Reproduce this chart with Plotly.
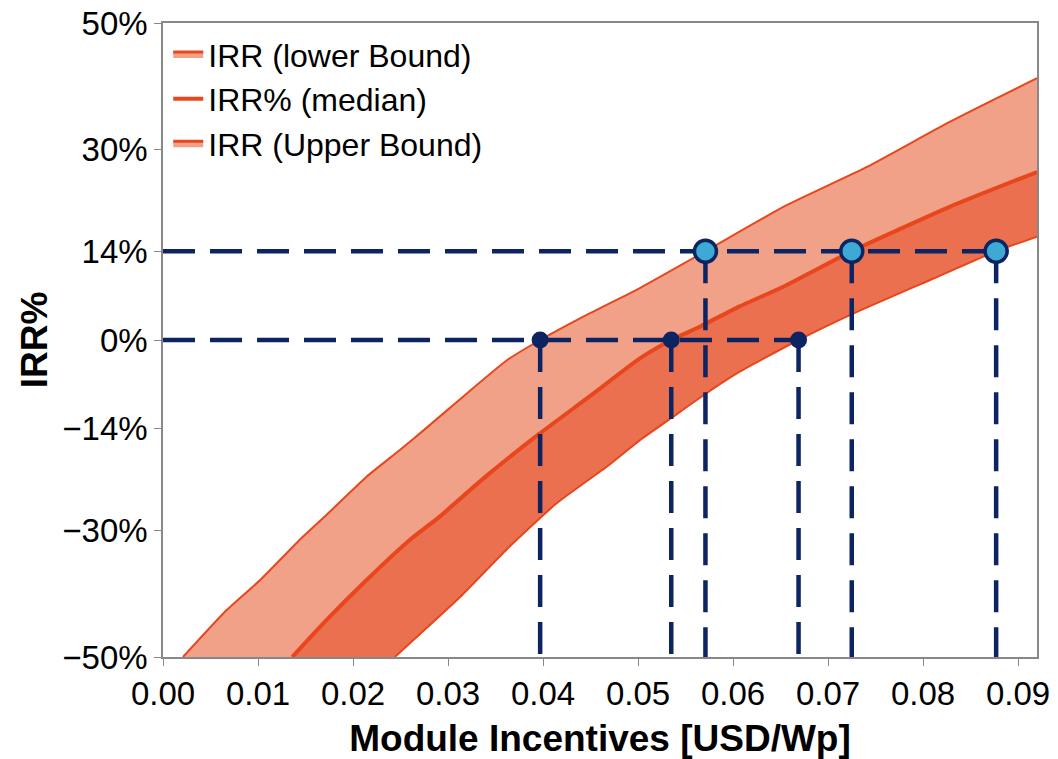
import plotly.graph_objects as go

# IRR bands versus module incentive (USD/Wp), IRR in %
upper_x = [0.0021, 0.0067, 0.0102, 0.0144, 0.0172, 0.0214, 0.0249, 0.0277, 0.0313,
           0.0362, 0.0397, 0.0449, 0.0502, 0.0571, 0.0653, 0.0741, 0.0828, 0.0920]
upper_y = [-50.0, -42.6, -37.9, -31.5, -27.6, -21.6, -17.4, -13.9, -9.3,
           -3.2, 0.0, 4.2, 8.2, 14.0, 21.0, 27.3, 34.4, 41.3]

median_x = [0.0136, 0.0172, 0.0214, 0.0260, 0.0291, 0.0313, 0.0344, 0.0397, 0.0449,
            0.0502, 0.0535, 0.0565, 0.0607, 0.0653, 0.0725, 0.0828, 0.0920]
median_y = [-50.0, -44.2, -37.9, -31.5, -27.9, -25.0, -21.0, -14.7, -8.9,
            -2.9, 0.0, 2.1, 5.3, 8.4, 14.0, 21.0, 26.5]

lower_x = [0.0244, 0.0313, 0.0362, 0.0414, 0.0467, 0.0502, 0.0537, 0.0572, 0.0607,
           0.0669, 0.0727, 0.0811, 0.0877, 0.0920]
lower_y = [-50.0, -40.5, -33.0, -25.8, -20.0, -15.8, -12.1, -8.4, -5.0,
           0.0, 4.2, 9.7, 14.0, 16.3]

# Incentive needed for IRR = 0% and IRR = 14% (upper, median, lower)
breakeven_x = [0.0397, 0.0535, 0.0669]
breakeven_irr = 0
target_x = [0.0571, 0.0725, 0.0877]
target_irr = 14

y_tickvals = [-50, -30, -14, 0, 14, 30, 50]
y_ticktext = ["\u221250%", "\u221230%", "\u221214%", "0%", "14%", "30%", "50%"]

series_names = ["IRR (lower Bound)", "IRR% (median)", "IRR (Upper Bound)"]

LINE = "#E8461C"
FILL_LIGHT = "#F2A189"
FILL_DARK = "#EA704F"
NAVY = "#0C2461"
CYAN = "#3FA9D6"
Y_MIN, Y_MAX = -50, 50

fig = go.Figure()

band_line = dict(color=LINE, width=2, shape="spline", smoothing=0.5)

# Bands: lower curve, then median (dark fill down to lower), then upper (light fill down to median)
fig.add_trace(go.Scatter(x=lower_x, y=lower_y, mode="lines",
                         line=band_line, showlegend=False, hoverinfo="skip"))
fig.add_trace(go.Scatter(x=median_x, y=median_y, mode="lines", fill="tonexty",
                         fillcolor=FILL_DARK, line=dict(band_line, width=4),
                         showlegend=False, hoverinfo="skip"))
fig.add_trace(go.Scatter(x=upper_x, y=upper_y, mode="lines", fill="tonexty",
                         fillcolor=FILL_LIGHT, line=band_line,
                         showlegend=False, hoverinfo="skip"))

# Legend entries
fig.add_trace(go.Scatter(x=[None], y=[None], mode="lines", name=series_names[0], fill="toself",
                         fillcolor=FILL_LIGHT, line=dict(color=LINE, width=3)))
fig.add_trace(go.Scatter(x=[None], y=[None], mode="lines", name=series_names[1],
                         line=dict(color=LINE, width=4)))
fig.add_trace(go.Scatter(x=[None], y=[None], mode="lines", name=series_names[2], fill="toself",
                         fillcolor=FILL_LIGHT, line=dict(color=LINE, width=3)))

dash_style = dict(color=NAVY, width=4.5, dash="32px,15px")

# Horizontal guides from the axis to the last marker
for level, xs in ((breakeven_irr, breakeven_x), (target_irr, target_x)):
    fig.add_trace(go.Scatter(x=[0, max(xs)], y=[level, level], mode="lines",
                             line=dash_style, showlegend=False, hoverinfo="skip"))
    # Vertical drops from each marker to the x axis
    for xv in xs:
        fig.add_trace(go.Scatter(x=[xv, xv], y=[level, Y_MIN], mode="lines",
                                 line=dash_style, showlegend=False, hoverinfo="skip"))

fig.add_trace(go.Scatter(x=breakeven_x, y=[breakeven_irr] * len(breakeven_x), mode="markers",
                         marker=dict(size=17, color=NAVY), showlegend=False))
fig.add_trace(go.Scatter(x=target_x, y=[target_irr] * len(target_x), mode="markers",
                         marker=dict(size=22, color=CYAN, line=dict(color=NAVY, width=3.5)),
                         showlegend=False))

FONT = "Liberation Sans, Arial, sans-serif"

fig.update_layout(
    width=1058, height=759,
    margin=dict(l=163, r=21, t=23, b=102),
    plot_bgcolor="white", paper_bgcolor="white",
    font=dict(family=FONT, color="black"),
    legend=dict(x=0.006, y=0.994, xanchor="left", yanchor="top", traceorder="normal",
                font=dict(size=32, family=FONT), bgcolor="rgba(0,0,0,0)",
                itemwidth=30, tracegroupgap=0),
    xaxis=dict(range=[0, 0.092], dtick=0.01, tick0=0, tickformat=".2f",
               ticks="outside", ticklen=7, tickcolor="#888", tickwidth=1,
               showline=True, linecolor="#888", linewidth=1.5, mirror=True,
               showgrid=False, zeroline=False, tickfont=dict(size=33), automargin=False,
               title=dict(text="<b>Module Incentives [USD/Wp]</b>",
                          font=dict(size=37), standoff=17)),
    yaxis=dict(range=[Y_MIN, Y_MAX], tickvals=y_tickvals, ticktext=y_ticktext,
               ticks="outside", ticklen=7, tickcolor="#888", tickwidth=1,
               showline=True, linecolor="#888", linewidth=1.5, mirror=True,
               showgrid=False, zeroline=False, tickfont=dict(size=33), automargin=False,
               title=dict(text="<b>IRR%</b>", font=dict(size=37), standoff=3)),
)

fig.write_html("out.html")
